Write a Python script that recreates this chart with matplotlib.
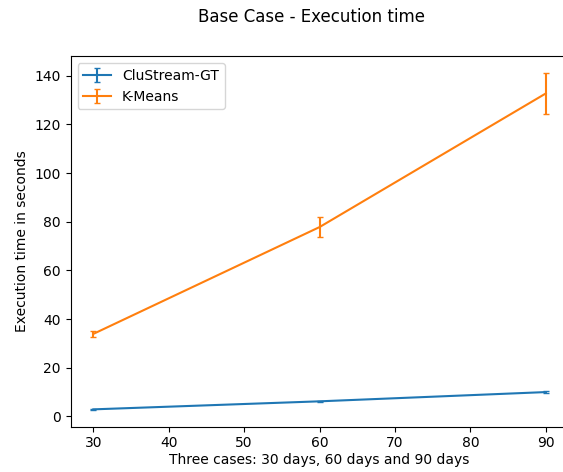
import matplotlib
matplotlib.use("Agg")
import matplotlib.pyplot as plt

days = [30, 60, 90]
clustream_mean = [2.9, 6.2, 10.0]
clustream_err = [0.2, 0.3, 0.5]
kmeans_mean = [33.9, 77.8, 132.7]
kmeans_err = [1.2, 4.1, 8.4]

fig = plt.figure(figsize=(5.63, 4.72), dpi=100)
ax = fig.add_axes([0.1256, 0.096, 0.884, 0.785])
ax.errorbar(days, clustream_mean, yerr=clustream_err, capsize=2, label="CluStream-GT")
ax.errorbar(days, kmeans_mean, yerr=kmeans_err, capsize=2, label="K-Means")
fig.suptitle("Base Case - Execution time", x=0.553, y=0.983)
ax.set_xlabel("Three cases: 30 days, 60 days and 90 days", labelpad=2)
ax.set_ylabel("Execution time in seconds")
ax.legend(loc="upper left")
fig.savefig("out.png", dpi=100)
